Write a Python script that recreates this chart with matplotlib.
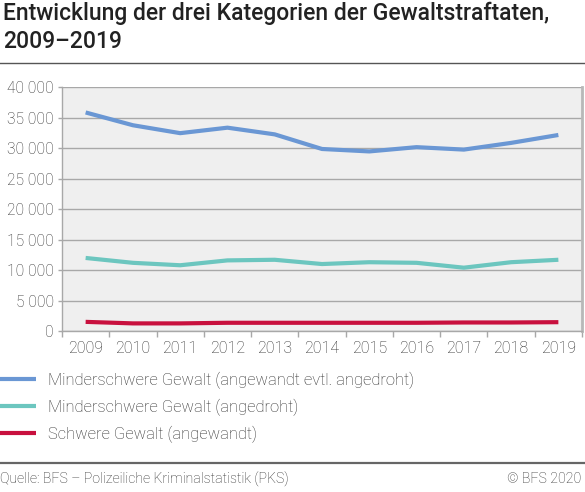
import matplotlib
matplotlib.use("Agg")
import matplotlib.pyplot as plt
from matplotlib.ticker import FuncFormatter, FixedLocator

# data
years = ["2009", "2010", "2011", "2012", "2013", "2014", "2015", "2016", "2017", "2018", "2019"]
minder_angewandt = [35900, 33800, 32500, 33400, 32300, 29900, 29500, 30200, 29800, 30900, 32200]
minder_angedroht = [12000, 11200, 10800, 11600, 11700, 11000, 11300, 11200, 10400, 11300, 11700]
schwere = [1500, 1250, 1250, 1350, 1350, 1350, 1350, 1350, 1400, 1400, 1450]
labels = ["Minderschwere Gewalt (angewandt evtl. angedroht)",
          "Minderschwere Gewalt (angedroht)",
          "Schwere Gewalt (angewandt)"]
colors = ["#6a97d4", "#6cc6bf", "#c8103e"]

plt.rcParams['font.family'] = ['Roboto', 'DejaVu Sans']
plt.rcParams['font.weight'] = 'light'
txt = "#2e2e2e"

fig = plt.figure(figsize=(5.85, 4.92), dpi=100)
ax = fig.add_axes([62/585, 1 - 331/492, 520/585, 243.5/492])
ax.set_facecolor("#efefef")

x = list(range(len(years)))
for vals, lab, col in zip([minder_angewandt, minder_angedroht, schwere], labels, colors):
    ax.plot(x, vals, color=col, lw=3, label=lab, solid_capstyle='butt')

ax.set_xlim(-0.5, len(years) - 0.5)
ax.set_ylim(0, 40000)
ax.set_yticks(range(0, 40001, 5000))
ax.yaxis.set_major_formatter(FuncFormatter(lambda v, p: f"{int(v):,}".replace(",", " ")))
ax.grid(axis='y', color="#a8a8a8", lw=1)
ax.set_axisbelow(True)

# year labels centered, tick marks on category boundaries
ax.set_xticks(x)
ax.set_xticklabels(years)
ax.tick_params(axis='x', length=0, pad=7, labelsize=11.5, labelcolor=txt)
ax.xaxis.set_minor_locator(FixedLocator([i - 0.5 for i in range(len(years) + 1)]))
ax.tick_params(axis='x', which='minor', length=4, color="#a8a8a8", width=1)
ax.tick_params(axis='y', length=3, color="#a8a8a8", width=1, pad=3, labelsize=11.2, labelcolor=txt)

for s in ['left', 'right', 'bottom']:
    ax.spines[s].set_color("#a8a8a8")
    ax.spines[s].set_linewidth(1)
ax.spines['right'].set_color("#b8b8b8")
ax.spines['right'].set_linewidth(2)
ax.spines['top'].set_visible(False)

ax.legend(loc='upper left', bbox_to_anchor=(0, 1 - 372/492), bbox_transform=fig.transFigure,
          frameon=False, fontsize=11.9, handlelength=2.2, handletextpad=0.68,
          labelspacing=0.58, borderpad=0, borderaxespad=0, labelcolor=txt)

fig.text(3/585, 1 - 2/492, "Entwicklung der drei Kategorien der Gewaltstraftaten,\n2009\u20132019",
         ha='left', va='top', fontsize=16.5, fontweight='medium', color="#222222", linespacing=1.27)
fig.add_artist(plt.Line2D([0, 1], [1 - 63/492, 1 - 63/492], color="#555555", lw=1))
fig.add_artist(plt.Line2D([0, 1], [1 - 463/492, 1 - 463/492], color="#666666", lw=1.6))
fig.text(0, 1 - 479/492, "Quelle: BFS \u2013 Polizeiliche Kriminalstatistik (PKS)",
         ha='left', va='center', fontsize=10.2, color=txt)
fig.text(1 - 4/585, 1 - 479/492, "\u00a9 BFS 2020", ha='right', va='center', fontsize=10.2, color=txt)

fig.savefig("out.png", dpi=100)
